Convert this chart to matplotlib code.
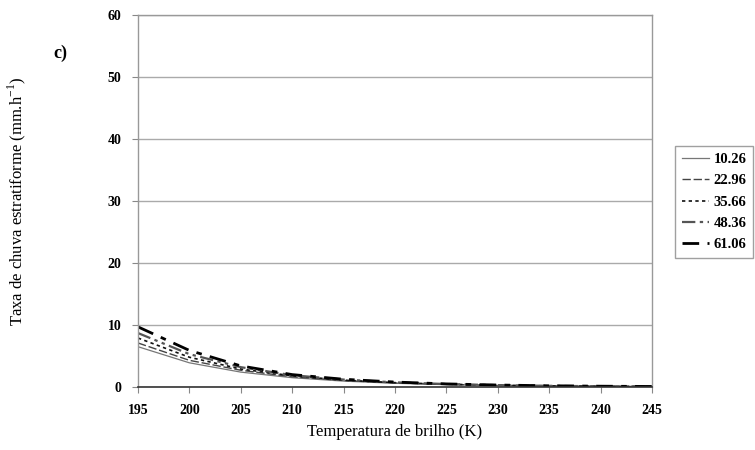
import matplotlib
matplotlib.use("Agg")
import matplotlib.pyplot as plt

temps = [195, 200, 205, 210, 215, 220, 225, 230, 235, 240, 245]
series_labels = ["10.26", "22.96", "35.66", "48.36", "61.06"]
rate_10_26 = [6.5, 3.9, 2.4, 1.5, 0.95, 0.60, 0.38, 0.24, 0.15, 0.10, 0.06]
rate_22_96 = [7.1, 4.3, 2.7, 1.65, 1.05, 0.65, 0.42, 0.26, 0.17, 0.11, 0.07]
rate_35_66 = [7.9, 4.8, 2.9, 1.8, 1.10, 0.70, 0.45, 0.28, 0.18, 0.115, 0.075]
rate_48_36 = [8.7, 5.3, 3.2, 1.9, 1.20, 0.75, 0.48, 0.30, 0.19, 0.12, 0.08]
rate_61_06 = [9.7, 5.9, 3.4, 2.0, 1.25, 0.80, 0.50, 0.32, 0.20, 0.13, 0.085]
series = [rate_10_26, rate_22_96, rate_35_66, rate_48_36, rate_61_06]

styles = [
    dict(color="#777777", lw=0.9, ls="-"),
    dict(color="#444444", lw=1.0, ls=(0, (6, 2))),
    dict(color="#111111", lw=1.2, ls=(0, (2, 2))),
    dict(color="#555555", lw=1.6, ls=(0, (6, 2, 1.5, 2, 1.5, 2))),
    dict(color="#000000", lw=2.0, ls=(0, (6, 3, 2, 3))),
]

serif = ["Liberation Serif", "DejaVu Serif"]

fig = plt.figure(figsize=(7.55, 4.5), dpi=100)
ax = fig.add_axes([138 / 755, 1 - 387 / 450, (652 - 138) / 755, (387 - 15) / 450])

for vals, lab, st in zip(series, series_labels, styles):
    ax.plot(temps, vals, label=lab, **st)

ax.set_xlim(195, 245)
ax.set_ylim(0, 60)
ax.set_xticks(list(range(195, 246, 5)))
ax.set_yticks(list(range(0, 61, 10)))
ax.yaxis.grid(True, color="#aaaaaa", lw=1.0)
ax.set_axisbelow(True)

for s in ["top", "right", "left"]:
    ax.spines[s].set_color("#999999")
    ax.spines[s].set_linewidth(1.0)
ax.spines["bottom"].set_color("#333333")
ax.spines["bottom"].set_linewidth(1.2)
ax.tick_params(axis="both", direction="out", length=4, color="#888888", width=0.8)

for t in ax.get_xticklabels() + ax.get_yticklabels():
    t.set_fontfamily(serif)
    t.set_fontweight("bold")
    t.set_fontsize(10)
ax.tick_params(axis="x", pad=8)
ax.tick_params(axis="y", pad=8)

ax.set_xlabel("Temperatura de brilho (K)", fontfamily=serif, fontsize=12)
ax.xaxis.set_label_coords(0.5, -(424 - 387) / 372)
ax.set_ylabel("Taxa de chuva estratiforme (mm.h$^{\\mathregular{-1}}$)", fontfamily=serif, fontsize=12)
ax.yaxis.set_label_coords((28 - 138) / 514, 0.5)

fig.text(53 / 755, 1 - 53 / 450, "c)", fontfamily=serif, fontweight="bold", fontsize=13, va="center", ha="left")

leg = ax.legend(loc="center left", bbox_to_anchor=(675 / 755, 1 - 202 / 450), bbox_transform=fig.transFigure,
                frameon=True, fancybox=False, edgecolor="#888888", handlelength=1.9, handletextpad=0.3,
                borderpad=0.45, labelspacing=0.55, borderaxespad=0,
                prop=dict(family=serif, weight="bold", size=10.5))
leg.get_frame().set_linewidth(1.0)

fig.savefig("out.png", dpi=100, facecolor="white")
